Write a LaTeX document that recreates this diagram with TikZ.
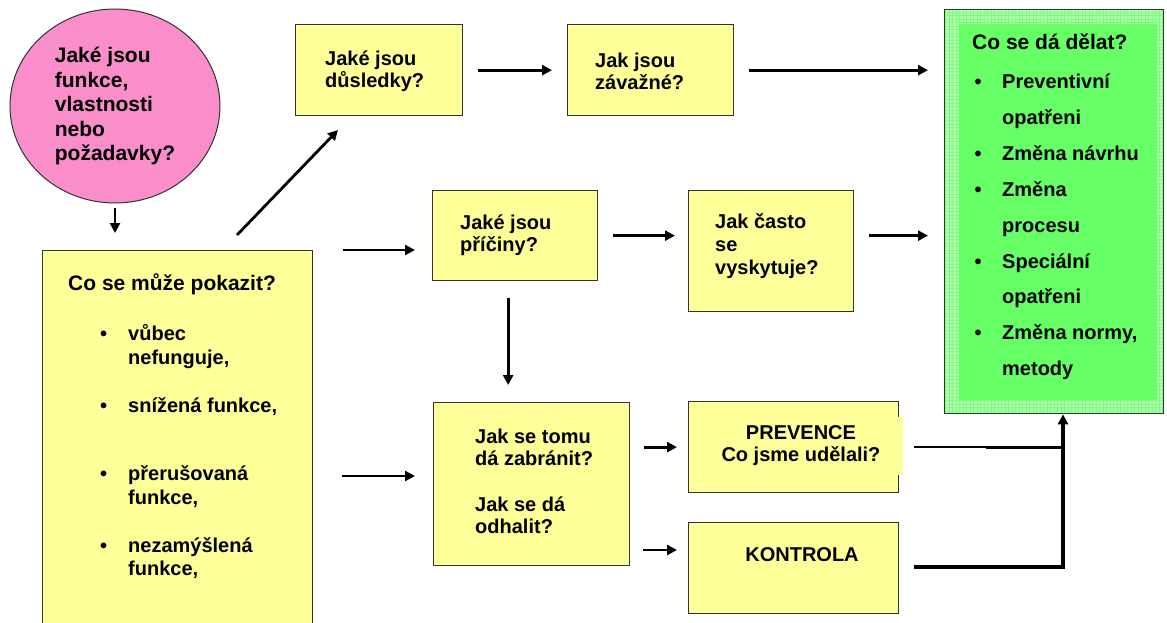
\documentclass[tikz,border=0pt]{standalone}
\usepackage{fontspec}
\setmainfont{Liberation Sans}
\usetikzlibrary{arrows.meta,shapes.geometric}
\definecolor{yel}{HTML}{FFFF99}
\definecolor{pinkc}{HTML}{F98ECB}
\definecolor{grn}{HTML}{66FF66}
\definecolor{grnband}{HTML}{B4FFB4}
\definecolor{grngrid}{HTML}{7CFF7C}
\definecolor{edge}{HTML}{333333}
\begin{document}
\begin{tikzpicture}[x=1pt,y=-1pt,
  ybox/.style={draw=edge, line width=1.3pt, fill=yel, inner sep=0pt, anchor=north west},
  txt/.style={font=\bfseries\fontsize{20}{22}\selectfont, inner sep=0pt, align=left},
  ln/.style={font=\bfseries\fontsize{20}{22}\selectfont, inner sep=0pt, anchor=base west},
  head/.style={font=\bfseries\fontsize{21}{24}\selectfont, inner sep=0pt, anchor=base west},
  arr/.style={line width=2.8pt, -{Triangle[length=10pt,width=10pt]}},
  greenbox/.style={draw=edge, line width=1.3pt, fill=grnband, inner sep=0pt, anchor=north west,
    path picture={
      \draw[grngrid, line width=0.7pt, step=3.5pt] (path picture bounding box.south west) grid (path picture bounding box.north east);
      \fill[grn] ([xshift=14pt,yshift=-14pt]path picture bounding box.north west) rectangle ([xshift=-7pt,yshift=14pt]path picture bounding box.south east);
    }},
]
\useasboundingbox (0,0) rectangle (1167,623);

% ---- pink ellipse ----
\node[ellipse, draw=edge, line width=1pt, fill=pinkc, minimum width=210pt, minimum height=194pt, inner sep=0pt,
      font=\bfseries\fontsize{21}{24.5}\selectfont, align=left] (circ) at (115,106)
  {Jaké jsou\\funkce,\\vlastnosti\\nebo\\požadavky?};

% ---- yellow boxes ----
\node[ybox, minimum width=167pt, minimum height=91pt] (dus) at (295,24) {};
\node[ybox, minimum width=166pt, minimum height=91pt] (zav) at (567,24) {};
\node[ybox, minimum width=165pt, minimum height=90pt] (pric) at (432,190) {};
\node[ybox, minimum width=165pt, minimum height=121pt] (cas) at (688,190) {};
\node[ybox, minimum width=196pt, minimum height=163pt] (zab) at (433,402) {};
\node[ybox, minimum width=210pt, minimum height=91pt] (prev) at (688,401) {};
\node[ybox, minimum width=210pt, minimum height=91pt] (kon) at (688,522) {};
\node[ybox, minimum width=270pt, minimum height=380pt] (big) at (42,250) {};

% ---- green box ----
\node[greenbox, minimum width=219pt, minimum height=404pt] (green) at (944,9) {};

% ---- box texts ----
\node[txt, anchor=west] (dust) at (325,71) {Jaké jsou\\důsledky?};
\node[txt, anchor=west] (zavt) at (595,71) {Jak jsou\\závažné?};
\node[txt, anchor=west] (prict) at (460,235) {Jaké jsou\\příčiny?};
\node[txt, anchor=west, font=\bfseries\fontsize{20}{23}\selectfont] (cast) at (715,246) {Jak často\\se\\vyskytuje?};
\node[txt, anchor=west] (zabt) at (475,481) {Jak se tomu\\dá zabránit?\\[24pt]Jak se dá\\odhalit?};
\node[txt, align=center, fill=yel, minimum width=204pt, minimum height=58pt] (prevt) at (801,446) {PREVENCE\\Co jsme udělali?};
\node[txt] (kont) at (802,555) {KONTROLA};

% big box lines
\node[head] (bh) at (68,290) {Co se může pokazit?};
\node[ln] (bb1) at (100,340) {•};
\node[ln] (bi1) at (128,340) {vůbec};
\node[ln] (bi1b) at (128,364) {nefunguje,};
\node[ln] (bb2) at (100,412) {•};
\node[ln] (bi2) at (128,412) {snížená funkce,};
\node[ln] (bb3) at (100,480) {•};
\node[ln] (bi3) at (128,480) {přerušovaná};
\node[ln] (bi3b) at (128,504) {funkce,};
\node[ln] (bb4) at (100,552) {•};
\node[ln] (bi4) at (128,552) {nezamýšlená};
\node[ln] (bi4b) at (128,575) {funkce,};

% green box lines
\node[head] (gh) at (972,50) {Co se dá dělat?};
\node[ln] (gb1) at (974.5,89) {•};
\node[ln] (gi1) at (1002,89) {Preventivní};
\node[ln] (gi1b) at (1002,124.8) {opatřeni};
\node[ln] (gb2) at (974.5,160.6) {•};
\node[ln] (gi2) at (1002,160.6) {Změna návrhu};
\node[ln] (gb3) at (974.5,196.4) {•};
\node[ln] (gi3) at (1002,196.4) {Změna};
\node[ln] (gi3b) at (1002,232.2) {procesu};
\node[ln] (gb4) at (974.5,268) {•};
\node[ln] (gi4) at (1002,268) {Speciální};
\node[ln] (gi4b) at (1002,303.8) {opatřeni};
\node[ln] (gb5) at (974.5,339.6) {•};
\node[ln] (gi5) at (1002,339.6) {Změna normy,};
\node[ln] (gi5b) at (1002,375.4) {metody};

% ---- connectors ----
\coordinate (d1) at (237,235);
\coordinate (d2) at (338,130);
\coordinate (z1) at (312,476);
\coordinate (k1) at (629,550);
\coordinate (j) at (1063,567);

\draw[arr, shorten <=4pt, shorten >=17pt] (circ.south) -- (circ.south |- big.north);
\draw[arr] (d1) -- (d2);
\draw[arr, shorten <=15pt, shorten >=15pt] (dus) -- (zav);
\draw[arr, shorten <=15pt, shorten >=16pt] (zav) -- (zav -| green.west);
\draw[arr, shorten <=30pt, shorten >=17pt] (big.north east) -- (big.north east -| pric.west);
\draw[arr, shorten <=15pt, shorten >=13pt] (pric) -- (pric -| cas.west);
\draw[arr, shorten <=15pt, shorten >=16pt] (cas.east |- pric) -- (pric -| green.west);
\draw[arr, shorten <=17pt, shorten >=17pt] ([xshift=-7pt]pric.south) -- ([xshift=-7pt]pric.south |- zab.north);
\draw[arr, shorten <=30pt, shorten >=18pt] (z1) -- (z1 -| zab.west);
\draw[arr, shorten <=14pt, shorten >=11pt] (zab.east |- prev) -- (prev);
\draw[arr, shorten <=14pt, shorten >=11pt] (k1) -- (k1 -| kon.west);

\draw[line width=2.6pt] ([xshift=15pt]prev.east) -- ([xshift=87pt]prev.east);
\draw[line width=3.3pt] ([xshift=87pt]prev.east) -- (prev.east -| j);
\draw[line width=3.3pt, -{Triangle[length=10pt,width=10pt]}] ([xshift=15pt]kon.east |- j) -- (j) -- (j |- green.south);
\end{tikzpicture}
\end{document}
